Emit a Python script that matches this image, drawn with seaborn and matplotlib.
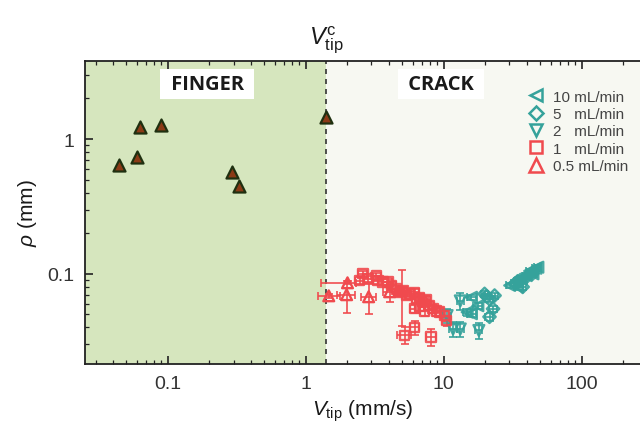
import numpy as np
import pandas as pd
import matplotlib
matplotlib.use("Agg")
import matplotlib.pyplot as plt
from matplotlib.ticker import FixedLocator, FixedFormatter, LogLocator, NullFormatter
import seaborn as sns

sns.set_theme(style="white")
plt.rcParams['font.family'] = ['Liberation Sans', 'DejaVu Sans']
plt.rcParams['mathtext.fontset'] = 'custom'
plt.rcParams['mathtext.rm'] = 'Liberation Sans'
plt.rcParams['mathtext.it'] = 'Liberation Sans:italic'

# ---------------- data ----------------
finger_x = [0.044, 0.060, 0.063, 0.089, 0.29, 0.33, 1.40]
finger_y = [0.64, 0.74, 1.23, 1.27, 0.57, 0.45, 1.46]

v_crit = 1.4

# 10 mL/min (left triangles)
q10_x = [15.9, 15.9, 17.7, 14.8, 30.1, 34.4, 36.6, 39.7, 44.4, 48.2, 42.0, 46.6]
q10_y = [0.067, 0.0506, 0.058, 0.052, 0.082, 0.080, 0.092, 0.097, 0.100, 0.112, 0.105, 0.110]
q10_xerr = [1.2, 1.2, 1.3, 1.1, 2.0, 2.2, 2.4, 2.6, 2.8, 3.0, 2.7, 3.0]
q10_yerr = [0.003, 0.003, 0.003, 0.003, 0.004, 0.004, 0.004, 0.004, 0.004, 0.005, 0.004, 0.005]

# 5 mL/min (diamonds)
q5_x = [19.8, 21.5, 22.8, 21.5, 23.4, 20.5, 34.4, 37.4, 33.0, 40.0, 44.0, 36.0]
q5_y = [0.071, 0.065, 0.055, 0.048, 0.069, 0.068, 0.088, 0.080, 0.085, 0.095, 0.100, 0.090]
q5_xerr = [1.3, 1.4, 1.5, 1.4, 1.5, 1.3, 2.2, 2.4, 2.1, 2.6, 2.8, 2.3]
q5_yerr = [0.003, 0.003, 0.003, 0.003, 0.003, 0.003, 0.004, 0.004, 0.004, 0.004, 0.004, 0.004]

# 2 mL/min (down triangles)
q2_x = [13.2, 11.7, 13.2, 18.0, 10.6]
q2_y = [0.063, 0.039, 0.039, 0.038, 0.049]
q2_xerr = [0.8, 0.7, 0.8, 1.1, 0.7]
q2_yerr = [0.009, 0.005, 0.005, 0.005, 0.006]

# 1 mL/min (squares)
q1_x = [2.60, 2.46, 2.83, 3.25, 3.34, 3.63, 3.95, 4.18, 4.54, 4.80, 5.07, 5.37, 5.67,
        6.17, 6.34, 6.70, 7.08, 7.49, 7.92, 8.36, 8.85, 9.35, 10.2, 10.5, 6.17, 6.70,
        7.29, 5.21, 6.17, 8.11, 5.00]
q1_y = [0.100, 0.089, 0.092, 0.097, 0.089, 0.087, 0.087, 0.082, 0.077, 0.073, 0.075,
        0.069, 0.071, 0.073, 0.065, 0.067, 0.062, 0.064, 0.058, 0.055, 0.053, 0.052,
        0.049, 0.045, 0.055, 0.057, 0.053, 0.035, 0.040, 0.034, 0.074]
q1_xerr = [0.20, 0.20, 0.20, 0.25, 0.25, 0.30, 0.30, 0.30, 0.35, 0.35, 0.40, 0.40, 0.40,
           0.45, 0.45, 0.50, 0.50, 0.50, 0.55, 0.55, 0.60, 0.60, 0.70, 0.70, 0.45, 0.50,
           0.50, 0.60, 0.50, 0.70, 0.40]
q1_yerr = [0.005, 0.005, 0.005, 0.005, 0.005, 0.005, 0.005, 0.005, 0.004, 0.004, 0.004,
           0.004, 0.004, 0.004, 0.004, 0.004, 0.004, 0.004, 0.004, 0.004, 0.004, 0.004,
           0.004, 0.004, 0.004, 0.004, 0.004, 0.005, 0.005, 0.005, 0.033]

# 0.5 mL/min (up triangles)
q05_x = [1.47, 2.01, 1.98, 2.86, 4.06]
q05_y = [0.0687, 0.0858, 0.070, 0.0676, 0.0736]
q05_xerr_lo = [0.25, 0.71, 0.30, 0.35, 0.40]
q05_xerr_hi = [0.29, 0.30, 0.30, 0.35, 0.40]
q05_yerr = [0.002, 0.002, 0.019, 0.017, 0.012]

labels = ["10 mL/min", "5   mL/min", "2   mL/min", "1   mL/min", "0.5 mL/min"]

teal = "#35a29b"
red = "#f04a4e"

# ---------------- figure ----------------
fig = plt.figure(figsize=(6.4, 4.39), dpi=100)
ax = fig.add_axes([0.133, 0.169, 0.867, 0.690])
ax.set_xscale("log")
ax.set_yscale("log")
xmin, xmax = 0.0252, 265
ymin, ymax = 0.0215, 3.8
ax.set_xlim(xmin, xmax)
ax.set_ylim(ymin, ymax)

ax.set_facecolor("#f7f8f2")
ax.axvspan(xmin, v_crit, color="#d6e6be", zorder=0, lw=0)
ax.axvline(v_crit, color="#333333", ls=(0, (3, 3)), lw=1.2, zorder=1)

series = [
    (q10_x, q10_y, q10_xerr, q10_yerr, "<", teal, labels[0]),
    (q5_x, q5_y, q5_xerr, q5_yerr, "D", teal, labels[1]),
    (q2_x, q2_y, q2_xerr, q2_yerr, "v", teal, labels[2]),
    (q1_x, q1_y, q1_xerr, q1_yerr, "s", red, labels[3]),
]
sizes = {"<": 60, "D": 40, "v": 60, "s": 45, "^": 60}
handles = []
for xs, ys, xe, ye, m, c, lab in series:
    ax.errorbar(xs, ys, xerr=xe, yerr=ye, fmt="none", ecolor=c, elinewidth=1.3,
                capsize=3, capthick=1.3, alpha=0.9, zorder=2)
    sns.scatterplot(x=xs, y=ys, marker=m, s=sizes[m], facecolors="none",
                    edgecolor=c, linewidth=1.7, ax=ax, zorder=3, alpha=0.9)
    handles.append(plt.Line2D([], [], marker=m, ls="none", mfc="none", mec=c,
                              mew=1.8, ms=9 if m != "D" else 7.5, label=lab))

ax.errorbar(q05_x, q05_y, xerr=[q05_xerr_lo, q05_xerr_hi], yerr=q05_yerr, fmt="none",
            ecolor=red, elinewidth=1.3, capsize=3, capthick=1.3, alpha=0.9, zorder=2)
sns.scatterplot(x=q05_x, y=q05_y, marker="^", s=sizes["^"], facecolors="none",
                edgecolor=red, linewidth=1.7, ax=ax, zorder=3)
handles.append(plt.Line2D([], [], marker="^", ls="none", mfc="none", mec=red,
                          mew=1.8, ms=9.5, label=labels[4]))

sns.scatterplot(x=finger_x, y=finger_y, marker="^", s=75, color="#8b3a16",
                edgecolor="#1f3010", linewidth=1.6, ax=ax, zorder=4)

leg = ax.legend(handles=handles, loc="upper right", bbox_to_anchor=(0.99, 0.925),
                frameon=False, fontsize=11, handletextpad=0.5, labelspacing=0.22,
                handlelength=1.2, borderaxespad=0)
for t in leg.get_texts():
    t.set_color("#444444")

# region labels
box = dict(facecolor="white", edgecolor="none", boxstyle="square,pad=0.25")
ax.text(0.220, 0.925, " FINGER ", transform=ax.transAxes, ha="center", va="center",
        fontsize=14.5, fontweight="bold", color="#1a1a1a", family=["Open Sans", "DejaVu Sans"],
        bbox=box)
ax.text(0.642, 0.925, " CRACK ", transform=ax.transAxes, ha="center", va="center",
        fontsize=14.5, fontweight="bold", color="#1a1a1a", family=["Open Sans", "DejaVu Sans"],
        bbox=box)

# critical velocity label above
ax.annotate(r"$V_{\rm tip}^{\rm c}$", xy=(v_crit, 1.0), xycoords=("data", "axes fraction"),
            xytext=(0, 4), textcoords="offset points", ha="center", va="bottom",
            fontsize=17, color="#1a1a1a", annotation_clip=False)

# axes styling
for s in ["left", "bottom", "top"]:
    ax.spines[s].set_visible(True)
    ax.spines[s].set_color("#222222")
    ax.spines[s].set_linewidth(1.3)
ax.spines["right"].set_visible(False)

ax.xaxis.set_major_locator(FixedLocator([0.1, 1, 10, 100]))
ax.xaxis.set_major_formatter(FixedFormatter(["0.1", "1", "10", "100"]))
ax.xaxis.set_minor_locator(LogLocator(base=10, subs=np.arange(2, 10)))
ax.xaxis.set_minor_formatter(NullFormatter())
ax.yaxis.set_major_locator(FixedLocator([0.1, 1]))
ax.yaxis.set_major_formatter(FixedFormatter(["0.1", "1"]))
ax.yaxis.set_minor_locator(LogLocator(base=10, subs=np.arange(2, 10)))
ax.yaxis.set_minor_formatter(NullFormatter())
ax.tick_params(which="both", direction="in", top=True, bottom=True, left=True,
               right=False, color="#222222")
ax.tick_params(which="major", length=6, width=1.2, labelsize=14, labelcolor="#333333", pad=8)
ax.tick_params(which="minor", length=3, width=0.9)

ax.set_xlabel(r"$V_{\rm tip}$ (mm/s)", fontsize=15, color="#1a1a1a", labelpad=4)
ax.set_ylabel(r"$\rho$ (mm)", fontsize=15, color="#1a1a1a", labelpad=6)

fig.savefig("out.png", dpi=100, facecolor="white")
